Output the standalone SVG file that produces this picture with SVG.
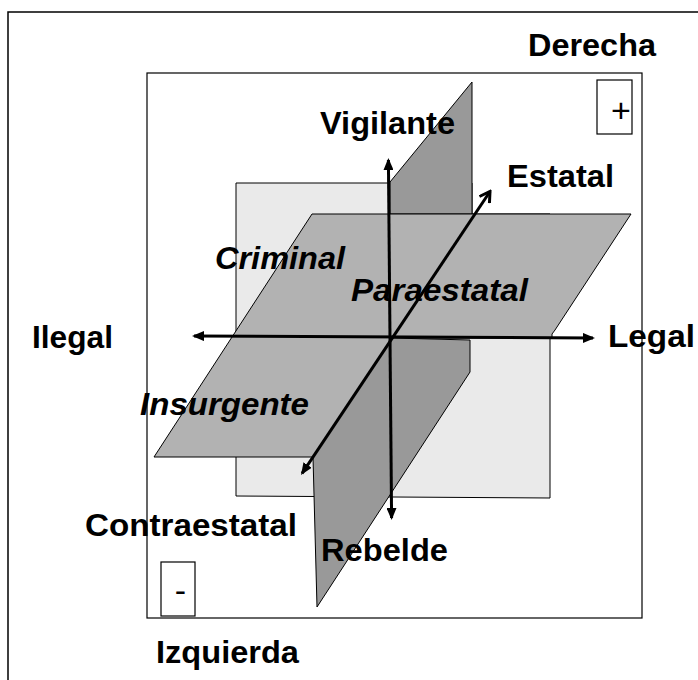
<svg xmlns="http://www.w3.org/2000/svg" width="698" height="680" viewBox="0 0 698 680">
  <style>
    .lbl { font-family: "Liberation Sans", Arial, sans-serif; font-weight: bold; font-size: 31px; fill: #000; }
    .it { font-style: italic; }
    .sign { font-family: "Liberation Sans", Arial, sans-serif; font-size: 34px; fill: #000; text-anchor: middle; }
    .frame { fill: none; stroke: #000; stroke-width: 1.5; }
    .box { fill: #fff; stroke: #000; stroke-width: 1.2; }
    .plane { stroke: #000; stroke-width: 1; stroke-linejoin: miter; }
    .light { fill: #eaeaea; }
    .mid { fill: #b2b2b2; }
    .dark { fill: #999999; }
    .axis { stroke: #000; stroke-width: 3; fill: none; }
  </style>
  <defs>
    <marker id="arr" viewBox="0 0 12 10" refX="10" refY="5" markerWidth="12" markerHeight="10" markerUnits="userSpaceOnUse" orient="auto-start-reverse">
      <path d="M0,0 L12,5 L0,10 z" fill="#000"/>
    </marker>
    <marker id="open" viewBox="0 0 14 14" refX="12" refY="7" markerWidth="14" markerHeight="14" markerUnits="userSpaceOnUse" orient="auto">
      <path d="M2,1 L12,7 L2,13" fill="none" stroke="#000" stroke-width="3"/>
    </marker>
  </defs>

  <rect x="0" y="0" width="698" height="680" fill="#fff"/>

  <g id="outer-frame">
    <rect class="frame" x="8" y="12" width="700" height="680"/>
  </g>
  <g id="inner-frame">
    <rect x="147" y="73" width="495" height="545" fill="none" stroke="#000" stroke-width="1.2"/>
  </g>

  <g id="planes">
    <polygon id="back-plane" class="plane light" points="236,183 472,183 472,214 550,214 550,498 236,496"/>
    <polygon id="vertical-plane-top" class="plane dark" points="390,182 472,82 472,214 390,214"/>
    <polygon id="horizontal-plane" class="plane mid" points="312,214 631,214 555,330 552,334 552,338 392,338 313,457 154,457"/>
    <polygon id="vertical-plane-bottom" class="plane dark" points="392,338 470,340 470,372 317,607 313,457"/>
  </g>

  <g id="connectors">
    <line id="axis-vertical" class="axis" x1="391.6" y1="518" x2="388.4" y2="160" marker-start="url(#arr)" marker-end="url(#arr)"/>
    <line id="axis-horizontal" class="axis" x1="194" y1="336" x2="593" y2="338" marker-start="url(#arr)" marker-end="url(#arr)"/>
    <line id="axis-depth" class="axis" x1="302.1" y1="473.3" x2="490" y2="191.5" marker-start="url(#arr)" marker-end="url(#open)"/>
  </g>

  <g id="sign-plus">
    <rect class="box" x="597" y="80" width="35" height="54"/>
    <text class="sign" x="621" y="121.5">+</text>
  </g>
  <g id="sign-minus">
    <rect class="box" x="161" y="562" width="34" height="54"/>
    <text class="sign" x="180.5" y="602">-</text>
  </g>

  <g id="label-derecha"><text class="lbl" x="528" y="56" textLength="128" lengthAdjust="spacingAndGlyphs">Derecha</text></g>
  <g id="label-izquierda"><text class="lbl" x="156" y="663" textLength="143" lengthAdjust="spacingAndGlyphs">Izquierda</text></g>
  <g id="label-ilegal"><text class="lbl" x="32" y="348" textLength="81" lengthAdjust="spacingAndGlyphs">Ilegal</text></g>
  <g id="label-legal"><text class="lbl" x="608" y="347" textLength="87" lengthAdjust="spacingAndGlyphs">Legal</text></g>
  <g id="label-vigilante"><text class="lbl" x="320" y="134" textLength="135" lengthAdjust="spacingAndGlyphs">Vigilante</text></g>
  <g id="label-estatal"><text class="lbl" x="507" y="187" textLength="107" lengthAdjust="spacingAndGlyphs">Estatal</text></g>
  <g id="label-contraestatal"><text class="lbl" x="85" y="536" textLength="212" lengthAdjust="spacingAndGlyphs">Contraestatal</text></g>
  <g id="label-rebelde"><text class="lbl" x="321" y="561" textLength="127" lengthAdjust="spacingAndGlyphs">Rebelde</text></g>
  <g id="label-criminal"><text class="lbl it" x="215" y="269" textLength="130" lengthAdjust="spacingAndGlyphs">Criminal</text></g>
  <g id="label-paraestatal"><text class="lbl it" x="351" y="301" textLength="177" lengthAdjust="spacingAndGlyphs">Paraestatal</text></g>
  <g id="label-insurgente"><text class="lbl it" x="140" y="415" textLength="169" lengthAdjust="spacingAndGlyphs">Insurgente</text></g>
</svg>
